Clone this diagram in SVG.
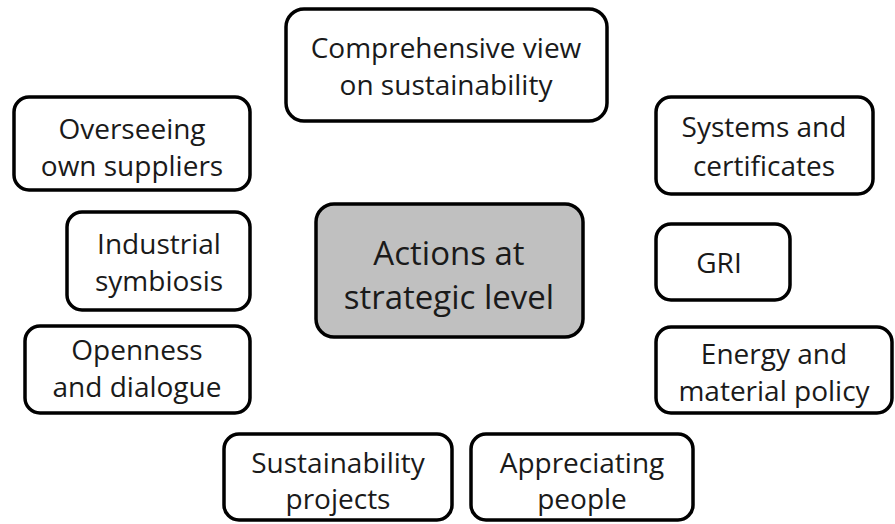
<svg xmlns="http://www.w3.org/2000/svg" width="895" height="524" viewBox="0 0 895 524">
<style>
rect.b{fill:#fff;stroke:#000;stroke-width:3.5}
rect.c{fill:#c0c0c0;stroke:#000;stroke-width:3.5}
text{font-family:"Open Sans","Liberation Sans",sans-serif;font-size:28px;fill:#1a1a1a;text-anchor:middle}
text.big{font-size:33px}
</style>
<rect width="895" height="524" fill="#fff"/>
<g id="connectors"></g>
<g id="center"><rect class="c" x="316" y="204" width="267" height="133" rx="18"/><text class="big" x="449" y="265">Actions at</text><text class="big" x="449" y="309">strategic level</text></g>
<g id="n-comprehensive"><rect class="b" x="286" y="9" width="321" height="112" rx="18"/><text x="446" y="58">Comprehensive view</text><text x="446" y="95">on sustainability</text></g>
<g id="n-overseeing"><rect class="b" x="14" y="97" width="236" height="93" rx="15"/><text x="132" y="139">Overseeing</text><text x="132" y="176">own suppliers</text></g>
<g id="n-industrial"><rect class="b" x="67" y="212" width="183" height="98" rx="15"/><text x="159" y="254">Industrial</text><text x="159" y="291">symbiosis</text></g>
<g id="n-openness"><rect class="b" x="25" y="326" width="225" height="87" rx="15"/><text x="137" y="360">Openness</text><text x="137" y="397">and dialogue</text></g>
<g id="n-systems"><rect class="b" x="656" y="97" width="217" height="97" rx="15"/><text x="764" y="137">Systems and</text><text x="764" y="176">certificates</text></g>
<g id="n-gri"><rect class="b" x="656" y="224" width="134" height="76" rx="15"/><text x="719" y="273">GRI</text></g>
<g id="n-energy"><rect class="b" x="656" y="327" width="236" height="86" rx="15"/><text x="774" y="364">Energy and</text><text x="774" y="401">material policy</text></g>
<g id="n-sustainability"><rect class="b" x="224" y="434" width="228" height="86" rx="15"/><text x="338" y="473">Sustainability</text><text x="338" y="509">projects</text></g>
<g id="n-appreciating"><rect class="b" x="471" y="434" width="222" height="86" rx="15"/><text x="582" y="473">Appreciating</text><text x="582" y="509">people</text></g>
</svg>
